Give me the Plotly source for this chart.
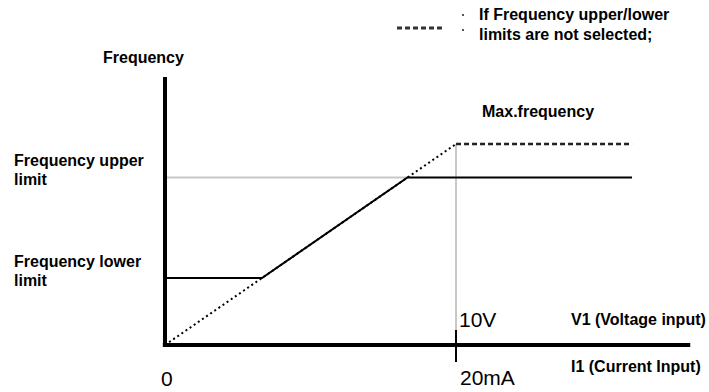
import plotly.graph_objects as go

# Analog input -> output frequency characteristic (frequency in Hz, input in mA)
input_full_scale = 20.0        # 20 mA / 10 V
max_frequency = 60.0           # output at full-scale input
upper_limit = 50.0
lower_limit = 20.0
x_axis_end = 36.1
line_end = 32.1
y_axis_top = 80.0

# Figure geometry (pixels)
W, H = 709, 392
ORIGIN_PX = (165, 345)
PX_PER_X = 14.55
PX_PER_Y = 3.35

x_range = [-ORIGIN_PX[0] / PX_PER_X, (W - ORIGIN_PX[0]) / PX_PER_X]
y_range = [-(H - ORIGIN_PX[1]) / PX_PER_Y, ORIGIN_PX[1] / PX_PER_Y]

# Input values where the ramp meets the lower and upper limits
x_low = lower_limit / max_frequency * input_full_scale
x_high = upper_limit / max_frequency * input_full_scale

fig = go.Figure()

def seg(xs, ys, color="black", width=2, dash="solid"):
    fig.add_trace(go.Scatter(x=xs, y=ys, mode="lines", hoverinfo="skip",
                             line=dict(color=color, width=width, dash=dash)))

# guide lines
seg([0, x_high], [upper_limit, upper_limit], color="#c8c8c8", width=2)
seg([input_full_scale, input_full_scale], [max_frequency, 4.5], color="#c8c8c8", width=2)

# ramp without limits (dotted) and max-frequency plateau (dashed)
seg([0, input_full_scale], [0, max_frequency], dash="2px,3px")
seg([input_full_scale, line_end], [max_frequency, max_frequency], color="#222222",
    width=2.5, dash="5px,3px")

# limited characteristic
seg([0, x_low, x_high, line_end], [lower_limit, lower_limit, upper_limit, upper_limit])

# axes
seg([0, 0], [-0.5, y_axis_top], width=4)
seg([-0.15, x_axis_end], [0, 0], width=4)
seg([input_full_scale, input_full_scale], [4.5, -5.1], width=2)

def px(xp, yp):
    return xp / W, 1 - yp / H

BOLD = dict(family="Liberation Sans, Arial, sans-serif", size=16, color="black")
THIN = dict(family="Liberation Sans, Arial, sans-serif", size=21, color="black")

labels = [
    ("<b>Frequency</b>", 143, 57, "center", BOLD),
    ("<b>Frequency upper</b>", 12, 160, "left", BOLD),
    ("<b>limit</b>", 12, 179, "left", BOLD),
    ("<b>Frequency lower</b>", 12, 261, "left", BOLD),
    ("<b>limit</b>", 12, 280, "left", BOLD),
    ("<b>Max.frequency</b>", 480, 111, "left", BOLD),
    ("<b>If Frequency upper/lower</b>", 477, 15, "left", BOLD),
    ("<b>limits are not selected;</b>", 477, 34, "left", BOLD),
    ("<b>V1 (Voltage input)</b>", 569, 319, "left", BOLD),
    ("<b>I1 (Current Input)</b>", 569, 366, "left", BOLD),
    ("10V", 457, 319, "left", THIN),
    ("20mA", 458, 377, "left", THIN),
    ("0", 167, 378, "center", THIN),
]
for text, xp, yp, anchor, font in labels:
    ax, ay = px(xp, yp)
    fig.add_annotation(text=text, x=ax, y=ay, xref="paper", yref="paper",
                       xanchor=anchor, yanchor="middle", showarrow=False, font=font)

# legend sample for the dashed curve
x0, y0 = px(397, 28)
x1, _ = px(442, 28)
fig.add_shape(type="line", xref="paper", yref="paper", x0=x0, x1=x1, y0=y0, y1=y0,
              line=dict(color="#333333", width=3, dash="5px,3px"))
for yp in (15, 30):
    bx, by = px(463, yp)
    fig.add_shape(type="rect", xref="paper", yref="paper",
                  x0=bx - 1 / W, x1=bx + 1 / W, y0=by - 1 / H, y1=by + 1 / H,
                  line=dict(width=0), fillcolor="#555555")

fig.update_layout(
    width=W, height=H,
    margin=dict(l=0, r=0, t=0, b=0),
    paper_bgcolor="white", plot_bgcolor="white",
    showlegend=False,
    xaxis=dict(range=x_range, visible=False, fixedrange=True),
    yaxis=dict(range=y_range, visible=False, fixedrange=True),
)

fig.write_html("out.html")
